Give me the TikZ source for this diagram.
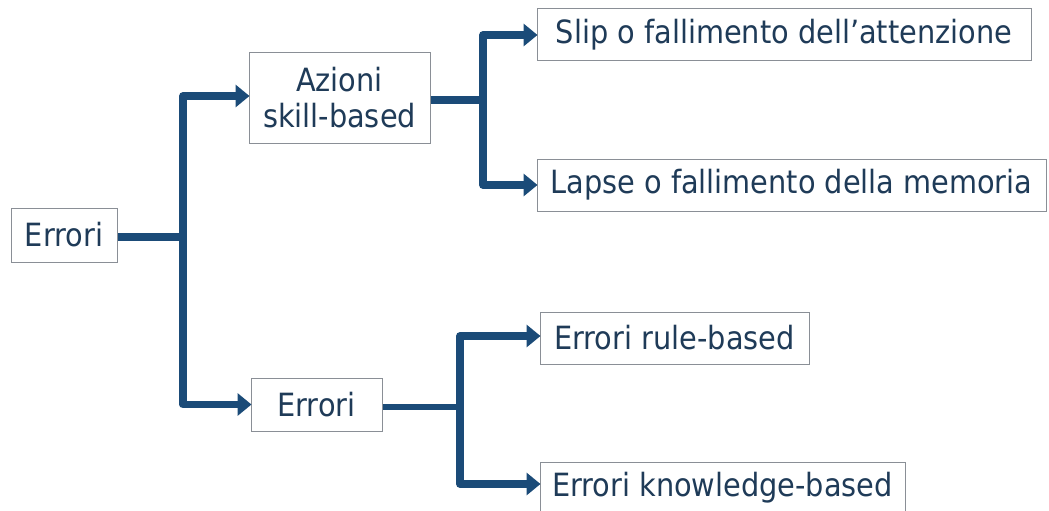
\documentclass[tikz,border=0pt]{standalone}
\usepackage{fontspec}
\setmainfont{DejaVu Sans Condensed}
\usetikzlibrary{arrows.meta}
\definecolor{linec}{HTML}{1B4B78}
\definecolor{textc}{HTML}{1F3B58}
\definecolor{boxc}{HTML}{8A8F96}
\tikzset{
  box/.style={draw=boxc, line width=1pt, fill=white, text=textc, align=center,
    inner sep=0pt, font=\fontsize{32}{36}\selectfont},
  conn/.style={draw=linec, line width=7.5pt, line join=round},
  arr/.style={conn, -{Triangle[length=14pt,width=22pt]}, shorten >=-1pt},
}
\begin{document}
\begin{tikzpicture}[x=1pt,y=-1pt]
\useasboundingbox (0,0) rectangle (1049,511);
\clip (0,0) rectangle (1049,511);
\fill[white] (0,0) rectangle (1049,511);
\node[box, minimum width=106pt, minimum height=54pt] (root) at (64,235) {Errori};
\node[box, minimum width=181pt, minimum height=90pt] (skill) at (339.5,98) {Azioni\\skill-based};
\node[box, minimum width=494pt, minimum height=52pt] (slip) at (784,35) {Slip o fallimento dell’attenzione};
\node[box, minimum width=509pt, minimum height=52pt] (lapse) at (791.5,185) {Lapse o fallimento della memoria};
\node[box, minimum width=131pt, minimum height=53pt] (mid) at (316.5,404.5) {Errori};
\node[box, minimum width=269pt, minimum height=52pt] (rule) at (674.5,338) {Errori rule-based};
\node[box, minimum width=365pt, minimum height=52pt] (know) at (722.5,488) {Errori knowledge-based};
\coordinate (b1) at (183,237);
\coordinate (b2) at (483,100);
\coordinate (b3) at (460,407);
\draw[conn] (root.east |- b1) -- (b1);
\draw[arr] (b1) |- ([yshift=2pt]skill.west);
\draw[arr] (b1) |- (mid.west);
\draw[conn] (skill.east |- b2) -- (b2);
\draw[arr] (b2) |- (slip.west);
\draw[arr] (b2) |- (lapse.west);
\draw[conn, line width=6pt] (mid.east |- b3) -- (b3);
\draw[arr] (b3) |- ([yshift=2pt]rule.west);
\draw[arr] (b3) |- ([yshift=4pt]know.west);
\end{tikzpicture}
\end{document}
